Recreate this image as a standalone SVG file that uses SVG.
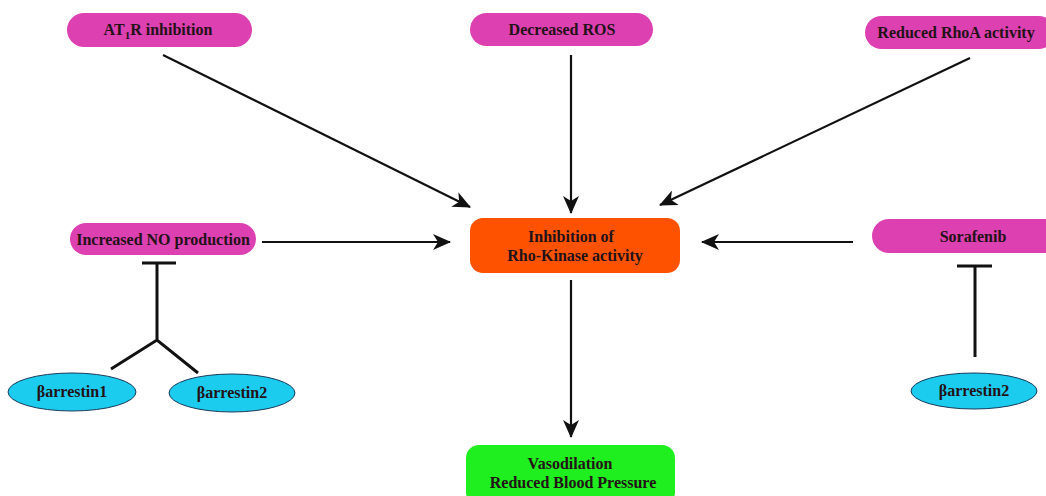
<svg xmlns="http://www.w3.org/2000/svg" width="1046" height="496" viewBox="0 0 1046 496">
<style>
.pink{fill:#dd40b0}
.orange{fill:#ff5200}
.green{fill:#1fee1f}
.cyan{fill:#1cccee;stroke:#1a3a5a;stroke-width:1}
text{font-family:"Liberation Serif","Times New Roman",serif;font-weight:bold;font-size:16px;fill:#231217;text-anchor:middle}
.ln{stroke:#111;stroke-width:2.2;fill:none}
.ar{marker-end:url(#ah)}
.inh{stroke:#111;stroke-width:3;fill:none}
</style>
<defs>
<marker id="ah" markerUnits="userSpaceOnUse" markerWidth="18" markerHeight="16" refX="17" refY="8" orient="auto">
<path d="M0,0 L18,8 L0,16 L5,8 z" fill="#111"/>
</marker>
</defs>
<rect width="1046" height="496" fill="#fff"/>
<g id="at1r"><rect class="pink" x="67" y="13" width="185" height="34" rx="17"/><text x="158" y="35">AT<tspan font-size="11" dy="4">1</tspan><tspan dy="-4">R inhibition</tspan></text></g>
<g id="ros"><rect class="pink" x="470" y="13" width="183" height="33" rx="16.5"/><text x="562" y="35">Decreased ROS</text></g>
<g id="rhoa"><rect class="pink" x="865" y="16" width="190" height="33" rx="16.5"/><text x="956" y="38">Reduced RhoA activity</text></g>
<g id="no"><rect class="pink" x="70" y="223" width="186" height="32" rx="16"/><text x="163" y="245">Increased NO production</text></g>
<g id="sorafenib"><rect class="pink" x="872" y="219" width="190" height="34" rx="17"/><text x="973" y="242">Sorafenib</text></g>
<g id="rock"><rect class="orange" x="470" y="218" width="210" height="55" rx="13"/><text x="571" y="242">Inhibition of</text><text x="575" y="261">Rho-Kinase activity</text></g>
<g id="vaso"><rect class="green" x="466" y="445" width="209" height="60" rx="13"/><text x="570" y="469">Vasodilation</text><text x="573" y="488">Reduced Blood Pressure</text></g>
<g id="barr1"><ellipse class="cyan" cx="72" cy="392" rx="64" ry="19"/><text x="72" y="397">βarrestin1</text></g>
<g id="barr2"><ellipse class="cyan" cx="232" cy="393" rx="63" ry="19"/><text x="232" y="398">βarrestin2</text></g>
<g id="barr2r"><ellipse class="cyan" cx="974" cy="391" rx="63" ry="18"/><text x="974" y="396">βarrestin2</text></g>
<g id="connectors">
<line class="ln ar" x1="163" y1="55" x2="470" y2="207"/>
<line class="ln ar" x1="571" y1="55" x2="571" y2="213"/>
<line class="ln ar" x1="970" y1="58" x2="660" y2="205"/>
<line class="ln ar" x1="262" y1="242" x2="450" y2="242"/>
<line class="ln ar" x1="853" y1="242" x2="702" y2="242"/>
<line class="ln ar" x1="571" y1="280" x2="571" y2="437"/>
<path class="inh" d="M142,263 H176 M157,263 V340 M111,369 L157,340 L198,373"/>
<path class="inh" d="M957,266 H992 M975,266 V357"/>
</g>
</svg>
